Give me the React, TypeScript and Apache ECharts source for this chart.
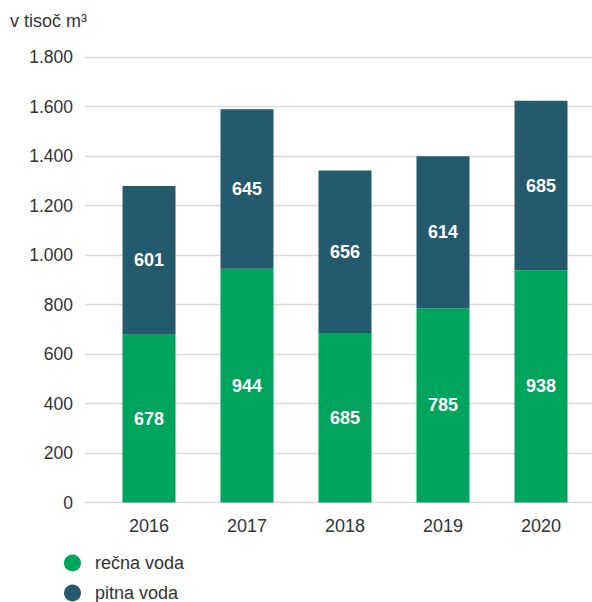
import React, { useEffect, useRef } from "react";
import * as echarts from "echarts";

const years = ["2016", "2017", "2018", "2019", "2020"];
const recnaVoda = [678, 944, 685, 785, 938];
const pitnaVoda = [601, 645, 656, 614, 685];
const seriesNames = ["rečna voda", "pitna voda"];
const unitLabel = "v tisoč m³";

const FONT = "'Liberation Sans', Arial, Helvetica, sans-serif";

export default function App() {
  const ref = useRef<HTMLDivElement>(null);
  useEffect(() => {
    if (!ref.current) return;
    const chart = echarts.init(ref.current, undefined, { renderer: "svg" });
    const fmt = (v: number) => {
      const s = String(v);
      return s.length > 3 ? s.slice(0, s.length - 3) + "." + s.slice(s.length - 3) : s;
    };
    const labelStyle = {
      show: true,
      position: "inside",
      color: "#fff",
      fontFamily: FONT,
      fontSize: 18,
      fontWeight: "bold",
    };
    const legendBase = {
      orient: "vertical",
      left: 64,
      padding: 0,
      itemWidth: 17,
      itemHeight: 17,
      icon: "circle",
      textStyle: {
        fontFamily: FONT,
        fontSize: 18,
        color: "#333",
        padding: [0, 0, 0, 9],
      },
    };
    chart.setOption({
      animation: false,
      textStyle: { fontFamily: FONT },
      title: {
        text: unitLabel,
        left: 10,
        top: 12,
        padding: 0,
        textStyle: { fontFamily: FONT, fontSize: 18, fontWeight: "normal", color: "#333" },
      },
      legend: [
        { ...legendBase, top: 554, data: [seriesNames[0]] },
        { ...legendBase, top: 584, data: [seriesNames[1]] },
      ],
      grid: [
        { left: 85, right: 0, top: 57, bottom: 99.5 },
        { left: 100, right: 2, top: 57, bottom: 99.5 },
      ],
      xAxis: [
        { gridIndex: 0, type: "category", data: years, show: false },
        {
          gridIndex: 1,
          type: "category",
          data: years,
          axisLine: { show: false },
          axisTick: { show: false },
          axisLabel: { fontFamily: FONT, fontSize: 18, color: "#333", margin: 14 },
        },
      ],
      yAxis: [
        {
          gridIndex: 0,
          type: "value",
          min: 0,
          max: 1800,
          interval: 200,
          axisLine: { show: false },
          axisTick: { show: false },
          axisLabel: { fontFamily: FONT, fontSize: 17.5, color: "#333", margin: 12, formatter: fmt },
          splitLine: { lineStyle: { color: "#dadada", width: 1.3 } },
        },
        {
          gridIndex: 1,
          type: "value",
          min: 0,
          max: 1800,
          interval: 200,
          show: false,
          splitLine: { show: false },
        },
      ],
      series: [
        {
          name: seriesNames[0],
          type: "bar",
          stack: "total",
          xAxisIndex: 1,
          yAxisIndex: 1,
          barWidth: 53,
          data: recnaVoda,
          itemStyle: { color: "#00a55d" },
          label: labelStyle,
        },
        {
          name: seriesNames[1],
          type: "bar",
          stack: "total",
          xAxisIndex: 1,
          yAxisIndex: 1,
          barWidth: 53,
          data: pitnaVoda,
          itemStyle: { color: "#235a6e" },
          label: labelStyle,
        },
      ],
    });
    return () => chart.dispose();
  }, []);
  return (
    <div
      ref={ref}
      style={{ position: "absolute", left: 0, top: 0, width: 592, height: 602, background: "#fff" }}
    />
  );
}
